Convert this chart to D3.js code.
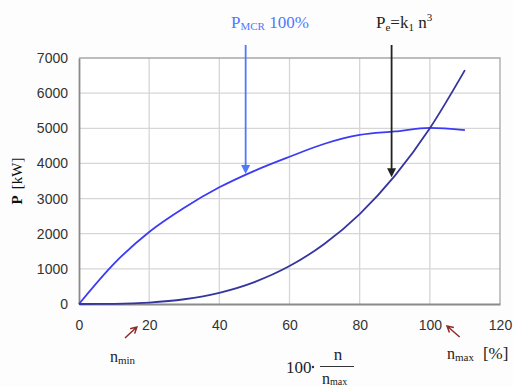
<!DOCTYPE html>
<html>
<head>
<meta charset="utf-8">
<script src="https://cdn.jsdelivr.net/npm/d3@7"></script>
<style>
  html, body { margin: 0; padding: 0; background: #fdfdfd; }
  svg { display: block; }
</style>
</head>
<body>
<svg id="chart" width="513" height="387"></svg>
<script>
// ---- data ----
const speedPct = [0, 10, 20, 30, 40, 50, 60, 70, 80, 90, 100, 110];
const mcrPower = [0, 1150, 2050, 2740, 3320, 3790, 4190, 4560, 4810, 4910, 5010, 4950];
const propPower = [0, 5, 40, 135, 320, 625, 1080, 1715, 2560, 3645, 5000, 6655];
const xTicks = [0, 20, 40, 60, 80, 100, 120];
const yTicks = [0, 1000, 2000, 3000, 4000, 5000, 6000, 7000];
// annotation arrows: [x %, top value, tip value]
const mcrArrow = [47.5, 7370, 3700];
const propArrow = [89.1, 7370, 3610];

const svg = d3.select("#chart");
const x = d3.scaleLinear().domain([0, 120]).range([79, 500]);
const y = d3.scaleLinear().domain([0, 7000]).range([304, 58]);

const sans = "'Liberation Sans', Arial, sans-serif";
const serif = "'Liberation Serif', 'Times New Roman', serif";

// plot background
svg.append("rect").attr("x", x(0)).attr("y", y(7000))
  .attr("width", x(120) - x(0)).attr("height", y(0) - y(7000)).attr("fill", "#fff");

// grid
svg.append("g").selectAll("line").data(xTicks.slice(1, -1)).join("line")
  .attr("x1", d => x(d)).attr("x2", d => x(d)).attr("y1", y(0)).attr("y2", y(7000))
  .attr("stroke", "#d6d6d6").attr("stroke-width", 1.3);
svg.append("g").selectAll("line").data(yTicks.slice(1, -1)).join("line")
  .attr("x1", x(0)).attr("x2", x(120)).attr("y1", d => y(d)).attr("y2", d => y(d))
  .attr("stroke", "#d6d6d6").attr("stroke-width", 1.3);

// frame top/right
svg.append("path")
  .attr("d", `M${x(0)},${y(7000)}H${x(120)}V${y(0)}`)
  .attr("fill", "none").attr("stroke", "#a8a8a8").attr("stroke-width", 1.3);

// axes
const fmt = d3.format("d");
const xAxis = d3.axisBottom(x).tickValues(xTicks).tickFormat(fmt).tickSize(0).tickPadding(16);
const yAxis = d3.axisLeft(y).tickValues(yTicks).tickFormat(fmt).tickSize(0).tickPadding(11);
const gx = svg.append("g").attr("transform", `translate(0,${y(0)})`).call(xAxis);
const gy = svg.append("g").attr("transform", `translate(${x(0)},0)`).call(yAxis);
[gx, gy].forEach(g => {
  g.select(".domain").attr("stroke", "#8a8a8a").attr("stroke-width", 1.8);
  g.selectAll("text").attr("font-family", sans).attr("font-size", 14).attr("fill", "#333");
});

// curves
const line = (vals) => d3.line()
  .x((d, i) => x(speedPct[i])).y(d => y(d))
  .curve(d3.curveMonotoneX)(vals);
svg.append("path").attr("d", line(mcrPower)).attr("fill", "none")
  .attr("stroke", "#3b3bf5").attr("stroke-width", 1.8);
svg.append("path").attr("d", line(propPower)).attr("fill", "none")
  .attr("stroke", "#35359e").attr("stroke-width", 1.8);

// arrow helper (filled head)
function downArrow(a, color) {
  const xp = x(a[0]), y0 = y(a[1]), y1 = y(a[2]);
  svg.append("line").attr("x1", xp).attr("x2", xp).attr("y1", y0).attr("y2", y1 - 7)
    .attr("stroke", color).attr("stroke-width", 1.8);
  svg.append("path").attr("d", `M${xp - 4.5},${y1 - 9}L${xp + 4.5},${y1 - 9}L${xp},${y1}Z`)
    .attr("fill", color);
}
downArrow(mcrArrow, "#4f78ff");
downArrow(propArrow, "#222");

// top labels
const t1 = svg.append("text").attr("x", 231).attr("y", 28)
  .attr("font-family", serif).attr("font-size", 17).attr("fill", "#4f78ff");
t1.append("tspan").text("P");
t1.append("tspan").attr("font-size", 11).attr("dy", 2).text("MCR");
t1.append("tspan").attr("dy", -2).text(" 100%");

const t2 = svg.append("text").attr("x", 376).attr("y", 28)
  .attr("font-family", serif).attr("font-size", 17).attr("fill", "#222");
t2.append("tspan").text("P");
t2.append("tspan").attr("font-size", 11).attr("dy", 3).text("e");
t2.append("tspan").attr("dy", -3).text("=k");
t2.append("tspan").attr("font-size", 11).attr("dy", 3).text("1");
t2.append("tspan").attr("dy", -3).text(" n");
t2.append("tspan").attr("font-size", 11).attr("dy", -7).text("3");

// y label
const yl = svg.append("text").attr("transform", "translate(22,181) rotate(-90)")
  .attr("text-anchor", "middle").attr("font-family", serif).attr("font-size", 15).attr("fill", "#111");
yl.append("tspan").attr("font-weight", "bold").text("P");
yl.append("tspan").attr("dx", 6).text("[kW]");

// n_min, n_max labels
const nmin = svg.append("text").attr("x", 110).attr("y", 362)
  .attr("font-family", serif).attr("font-size", 16).attr("fill", "#222");
nmin.append("tspan").text("n");
nmin.append("tspan").attr("font-size", 11).attr("dy", 2).text("min");

const nmax = svg.append("text").attr("x", 447).attr("y", 359)
  .attr("font-family", serif).attr("font-size", 16).attr("fill", "#222");
nmax.append("tspan").text("n");
nmax.append("tspan").attr("font-size", 11).attr("dy", 2).text("max");
nmax.append("tspan").attr("dy", -2).attr("dx", 9).attr("font-size", 17).text("[%]");

// formula 100 · n / n_max
svg.append("text").attr("x", 286).attr("y", 373).attr("font-family", serif)
  .attr("font-size", 17).attr("fill", "#222").text("100");
svg.append("circle").attr("cx", 313).attr("cy", 367).attr("r", 1.2).attr("fill", "#333");
svg.append("line").attr("x1", 320).attr("x2", 354).attr("y1", 366.5).attr("y2", 366.5)
  .attr("stroke", "#333").attr("stroke-width", 1);
svg.append("text").attr("x", 338).attr("y", 360).attr("text-anchor", "middle")
  .attr("font-family", serif).attr("font-size", 17).attr("fill", "#222").text("n");
const den = svg.append("text").attr("x", 322).attr("y", 384).attr("font-family", serif)
  .attr("font-size", 16).attr("fill", "#222");
den.append("tspan").text("n");
den.append("tspan").attr("font-size", 10).attr("dy", 1).text("max");

// red arrows (open heads)
function redArrow(x0, y0, x1, y1) {
  const ang = Math.atan2(y1 - y0, x1 - x0), h = 7, s = 0.5;
  svg.append("path")
    .attr("d", `M${x0},${y0}L${x1},${y1}` +
      `M${x1 - h * Math.cos(ang - s)},${y1 - h * Math.sin(ang - s)}L${x1},${y1}` +
      `L${x1 - h * Math.cos(ang + s)},${y1 - h * Math.sin(ang + s)}`)
    .attr("fill", "none").attr("stroke", "#8e2a2a").attr("stroke-width", 1.5);
}
redArrow(x(13.1), 338, x(16.5), 327);
redArrow(x(108.5), 337, x(104.9), 326);
</script>
</body>
</html>
